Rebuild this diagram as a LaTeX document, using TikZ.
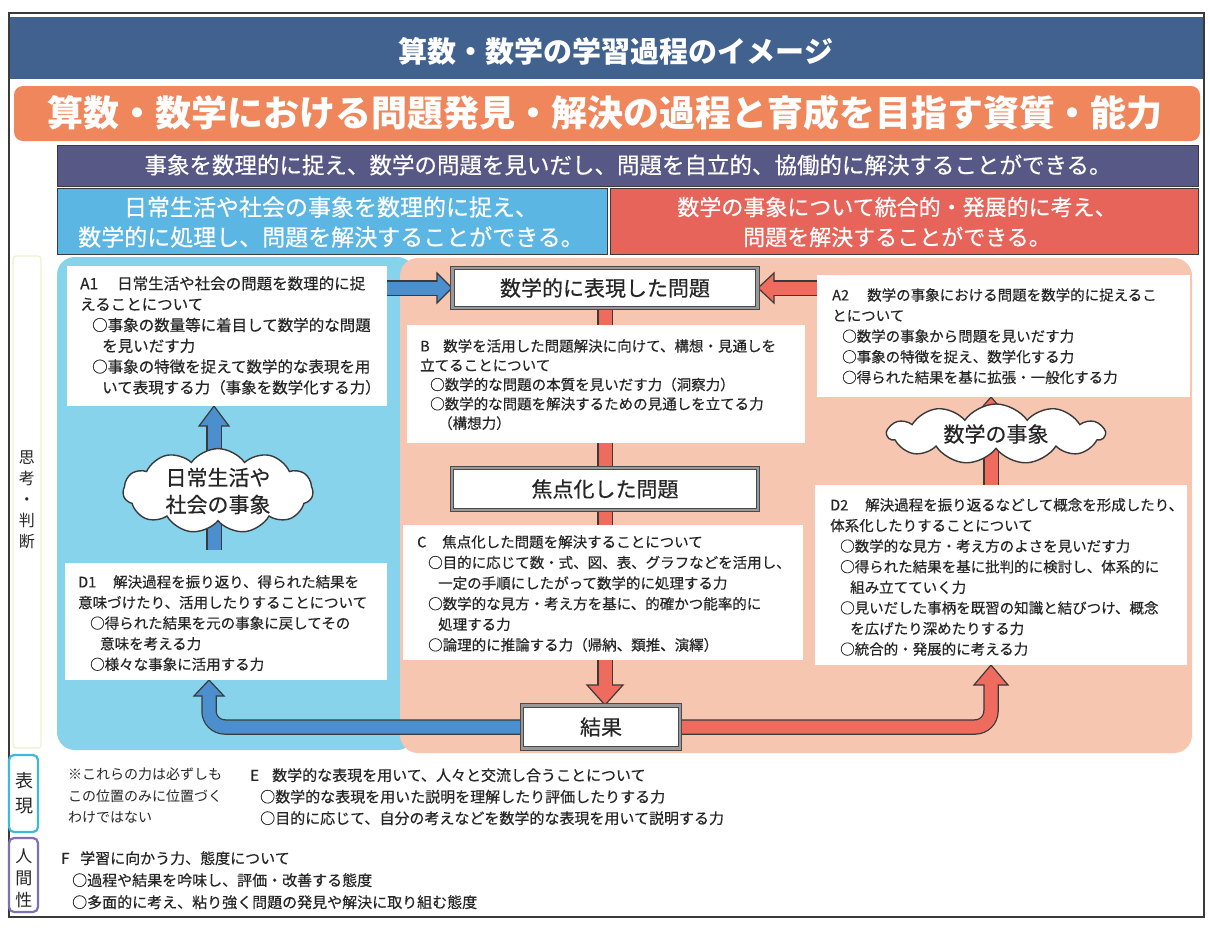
\documentclass[tikz,border=0pt]{standalone}
\usepackage{fontspec}
\setmainfont{Noto Sans CJK JP}
\newfontfamily\jpm[FakeBold=0.45]{Noto Sans CJK JP}
\usetikzlibrary{shapes.symbols,calc}
\pgfdeclarelayer{bg}
\pgfdeclarelayer{arr}
\pgfsetlayers{bg,arr,main}
\definecolor{titlebg}{HTML}{41618F}
\definecolor{orangebg}{HTML}{F0875C}
\definecolor{purplebg}{HTML}{575886}
\definecolor{bluehd}{HTML}{5CB6E4}
\definecolor{redhd}{HTML}{E7645A}
\definecolor{cyanrg}{HTML}{86D3EB}
\definecolor{salmonrg}{HTML}{F7C6B1}
\definecolor{bluearr}{HTML}{4C8FCF}
\definecolor{redarr}{HTML}{EE6B5E}
\definecolor{edge}{HTML}{3A3A3A}
\definecolor{txt}{HTML}{262626}
\definecolor{frm}{HTML}{4A4A4A}
\definecolor{lblcyan}{HTML}{3DB9D9}
\definecolor{lblpurple}{HTML}{7E70B6}
\definecolor{lblyellow}{HTML}{EEF2CC}
\tikzset{
  body/.style={anchor=north west, align=left, inner sep=0pt, text=txt, font=\jpm\fontsize{14.5}{20.6}\selectfont},
  wbox/.style={fill=white, inner sep=0pt, outer sep=0pt, anchor=north west},
  pbox/.style={fill=white, draw=frm, line width=1pt, double=black!40, double distance=2.2pt, inner sep=0pt, text=txt, font=\jpm\fontsize{21}{24}\selectfont},
  shaftout/.style={draw=edge, line width=15.5pt, rounded corners=16pt},
  shaftin/.style={line width=13pt, rounded corners=16pt},
  headb/.style={fill=bluearr, draw=edge, line width=1.2pt, line join=miter},
  headr/.style={fill=redarr, draw=edge, line width=1.2pt, line join=miter},
  cloudbox/.style={cloud, cloud puffs=11, cloud puff arc=110, cloud ignores aspect, draw=edge, fill=white, line width=1.4pt, align=center, text=txt, inner sep=0pt, font=\jpm\fontsize{21}{27}\selectfont},
  sidelbl/.style={align=center, text=txt, inner sep=0pt},
}
\begin{document}
\begin{tikzpicture}[x=1pt,y=-1pt]
\useasboundingbox (0,0) rectangle (1210,929);
\begin{pgfonlayer}{bg}
\fill[white] (0,0) rectangle (1210,929);
\draw[edge, line width=1.6pt] (9,13) rectangle (1204,917);
\fill[titlebg] (10,17) rectangle (1203,79);
\fill[orangebg, rounded corners=9pt] (14,86) rectangle (1200,141);
\draw[edge, fill=purplebg, line width=1pt] (57,145) rectangle (1198,186);
\draw[edge, fill=bluehd, line width=1pt] (57,188) rectangle (607,254);
\draw[edge, fill=redhd, line width=1pt] (610,188) rectangle (1198,254);
\fill[cyanrg, rounded corners=18pt] (57,257) rectangle (415,750);
\fill[salmonrg, rounded corners=18pt] (400,258) rectangle (1192,753);
\draw[lblyellow, line width=1.2pt, rounded corners=3pt] (13,256) rectangle (41,748);
\draw[lblcyan, line width=2.2pt, rounded corners=5pt] (9,755) rectangle (38,832);
\draw[lblpurple, line width=2.2pt, rounded corners=5pt] (9,838) rectangle (38,912);
\end{pgfonlayer}

% headings
\node[text=white, font=\bfseries\fontsize{29}{32}\selectfont] (title) at (616,51) {算数・数学の学習過程のイメージ};
\node[text=white, font=\bfseries\fontsize{36}{40}\selectfont] (goal) at (605,113) {算数・数学における問題発見・解決の過程と育成を目指す資質・能力};
\node[text=white, font=\jpm\fontsize{22.5}{26}\selectfont] (goalsub) at (628,165) {事象を数理的に捉え、数学の問題を見いだし、問題を自立的、協働的に解決することができる。};
\node[text=white, align=center, font=\jpm\fontsize{23}{30}\selectfont] (hdL) at (331,222) {日常生活や社会の事象を数理的に捉え、\\数学的に処理し、問題を解決することができる。};
\node[text=white, align=center, font=\jpm\fontsize{22}{30}\selectfont] (hdR) at (897,222) {数学の事象について統合的・発展的に考え、\\問題を解決することができる。};

% side labels
\node[sidelbl, font=\fontsize{16}{21}\selectfont] (lblthink) at (27,500) {思\\考\\・\\判\\断};
\node[sidelbl, font=\fontsize{18}{25}\selectfont] (lblexp) at (24,793) {表\\現};
\node[sidelbl, font=\fontsize{17}{22}\selectfont] (lblhum) at (24,878) {人\\間\\性};

% white boxes
\node[wbox, minimum width=320pt, minimum height=140pt] (A1box) at (67,266) {};
\node[body, font=\jpm\fontsize{15.5}{20.8}\selectfont] (A1txt) at (80,276) {\makebox[37pt][l]{A1}日常生活や社会の問題を数理的に捉\\えることについて\\\hspace*{12pt}○事象の数量等に着目して数学的な問題\\\hspace*{22pt}を見いだす力\\\hspace*{12pt}○事象の特徴を捉えて数学的な表現を用\\\hspace*{22pt}いて表現する力（事象を数学化する力）};
\node[wbox, minimum width=322pt, minimum height=117pt] (D1box) at (65,563) {};
\node[body] (D1txt) at (78,575) {\makebox[35pt][l]{D1}解決過程を振り返り、得られた結果を\\意味づけたり、活用したりすることについて\\\hspace*{12pt}○得られた結果を元の事象に戻してその\\\hspace*{22pt}意味を考える力\\\hspace*{12pt}○様々な事象に活用する力};
\node[wbox, minimum width=398pt, minimum height=118pt] (Bbox) at (407,325) {};
\node[body, font=\jpm\fontsize{14.5}{19.3}\selectfont] (Btxt) at (420,339) {\makebox[23pt][l]{B}数学を活用した問題解決に向けて、構想・見通しを\\立てることについて\\\hspace*{10pt}○数学的な問題の本質を見いだす力（洞察力）\\\hspace*{10pt}○数学的な問題を解決するための見通しを立てる力\\\hspace*{18pt}（構想力）};
\node[wbox, minimum width=400pt, minimum height=135pt] (Cbox) at (403,525) {};
\node[body] (Ctxt) at (417,535) {\makebox[25pt][l]{C}焦点化した問題を解決することについて\\\hspace*{11pt}○目的に応じて数・式、図、表、グラフなどを活用し、\\\hspace*{21pt}一定の手順にしたがって数学的に処理する力\\\hspace*{11pt}○数学的な見方・考え方を基に、的確かつ能率的に\\\hspace*{21pt}処理する力\\\hspace*{11pt}○論理的に推論する力（帰納、類推、演繹）};
\node[wbox, minimum width=373pt, minimum height=122pt] (A2box) at (817,275) {};
\node[body] (A2txt) at (832,288) {\makebox[35pt][l]{A2}数学の事象における問題を数学的に捉えるこ\\とについて\\\hspace*{10pt}○数学の事象から問題を見いだす力\\\hspace*{10pt}○事象の特徴を捉え、数学化する力\\\hspace*{10pt}○得られた結果を基に拡張・一般化する力};
\node[wbox, minimum width=372pt, minimum height=180pt] (D2box) at (815,485) {};
\node[body] (D2txt) at (830,498) {\makebox[35pt][l]{D2}解決過程を振り返るなどして概念を形成したり、\\体系化したりすることについて\\\hspace*{10pt}○数学的な見方・考え方のよさを見いだす力\\\hspace*{10pt}○得られた結果を基に批判的に検討し、体系的に\\\hspace*{20pt}組み立てていく力\\\hspace*{10pt}○見いだした事柄を既習の知識と結びつけ、概念\\\hspace*{20pt}を広げたり深めたりする力\\\hspace*{10pt}○統合的・発展的に考える力};

% process boxes
\node[pbox, minimum width=305pt, minimum height=40pt] (P1) at (605,288) {数学的に表現した問題};
\node[pbox, minimum width=306pt, minimum height=42pt] (P2) at (605,489) {焦点化した問題};
\node[pbox, minimum width=158pt, minimum height=43pt] (R) at (601,727) {結果};

% clouds
\node[cloudbox, minimum width=190pt, minimum height=80pt] (cloud1) at (218,491) {日常生活や\\社会の事象};
\node[cloudbox, minimum width=217pt, minimum height=60pt] (cloud2) at (996,434) {数学の事象};

% bottom texts
\node[body, font=\fontsize{14}{21.5}\selectfont] (note) at (68,768) {※これらの力は必ずしも\\この位置のみに位置づく\\わけではない};
\node[body, font=\jpm\fontsize{15}{21.5}\selectfont] (Etxt) at (250,768) {\makebox[22pt][l]{E}数学的な表現を用いて、人々と交流し合うことについて\\\hspace*{10pt}○数学的な表現を用いた説明を理解したり評価したりする力\\\hspace*{10pt}○目的に応じて、自分の考えなどを数学的な表現を用いて説明する力};
\node[body, font=\jpm\fontsize{15}{22}\selectfont] (Ftxt) at (61,851) {\makebox[19pt][l]{F}学習に向かう力、態度について\\\hspace*{11pt}○過程や結果を吟味し、評価・改善する態度\\\hspace*{11pt}○多面的に考え、粘り強く問題の発見や解決に取り組む態度};

% connectors
\begin{pgfonlayer}{arr}
% P1 -> P2 bar
\draw[shaftout] (P1.south) -- (P2.north);
\draw[shaftin, redarr] (P1.south) -- (P2.north);
% P2 -> R
\coordinate (t3) at (P2.south |- R.north);
\coordinate (hb3) at ([yshift=20pt]t3);
\draw[shaftout] (P2.south) -- (hb3);
\filldraw[headr] ([xshift=-18pt]hb3) -- (t3) -- ([xshift=18pt]hb3) -- cycle;
\draw[shaftin, redarr] (P2.south) -- ([yshift=-2pt]hb3);
% R -> D1
\coordinate (t1) at ([xshift=-17pt]D1box.south);
\coordinate (hb1) at ([yshift=-16pt]t1);
\draw[shaftout] (R.west) -| (hb1);
\filldraw[headb] ([xshift=-15pt]hb1) -- (t1) -- ([xshift=15pt]hb1) -- cycle;
\draw[shaftin, bluearr] (R.west) -| ([yshift=2pt]hb1);
% R -> D2
\coordinate (t2) at ([xshift=-10pt]D2box.south);
\coordinate (hb2) at ([yshift=-20pt]t2);
\draw[shaftout] (R.east) -| (hb2);
\filldraw[headr] ([xshift=-17pt]hb2) -- (t2) -- ([xshift=17pt]hb2) -- cycle;
\draw[shaftin, redarr] (R.east) -| ([yshift=2pt]hb2);
% A1 -> P1
\coordinate (t4) at (P1.west);
\coordinate (hb4) at ([xshift=-15pt]t4);
\draw[shaftout] (A1box.east |- t4) -- (hb4);
\filldraw[headb] ([yshift=15pt]hb4) -- (t4) -- ([yshift=-15pt]hb4) -- cycle;
\draw[shaftin, bluearr] (A1box.east |- t4) -- ([xshift=2pt]hb4);
% A2 -> P1
\coordinate (t5) at (P1.east);
\coordinate (hb5) at ([xshift=16pt]t5);
\draw[shaftout] (A2box.west |- t5) -- (hb5);
\filldraw[headr] ([yshift=15pt]hb5) -- (t5) -- ([yshift=-15pt]hb5) -- cycle;
\draw[shaftin, redarr] (A2box.west |- t5) -- ([xshift=-2pt]hb5);
% cloud1 -> A1
\coordinate (t6) at ([xshift=-13pt]A1box.south);
\coordinate (hb6) at ([yshift=-20pt]t6);
\coordinate (c1b) at ($(t6 |- D1box.north)+(0,-13)$);
\draw[shaftout] (c1b) -- (hb6);
\filldraw[headb] ([xshift=-15pt]hb6) -- (t6) -- ([xshift=15pt]hb6) -- cycle;
\draw[shaftin, bluearr] (c1b) -- ([yshift=2pt]hb6);
% cloud2 -> A2
\coordinate (t7) at ([xshift=-12.5pt]A2box.south);
\coordinate (hb7) at ([yshift=-16pt]t7);
\coordinate (c2b) at ([xshift=-10pt]D2box.north);
\draw[shaftout] (c2b) -- (hb7);
\filldraw[headr] ([xshift=-14pt]hb7) -- (t7) -- ([xshift=14pt]hb7) -- cycle;
\draw[shaftin, redarr] (c2b) -- ([yshift=2pt]hb7);
\end{pgfonlayer}
\end{tikzpicture}
\end{document}
